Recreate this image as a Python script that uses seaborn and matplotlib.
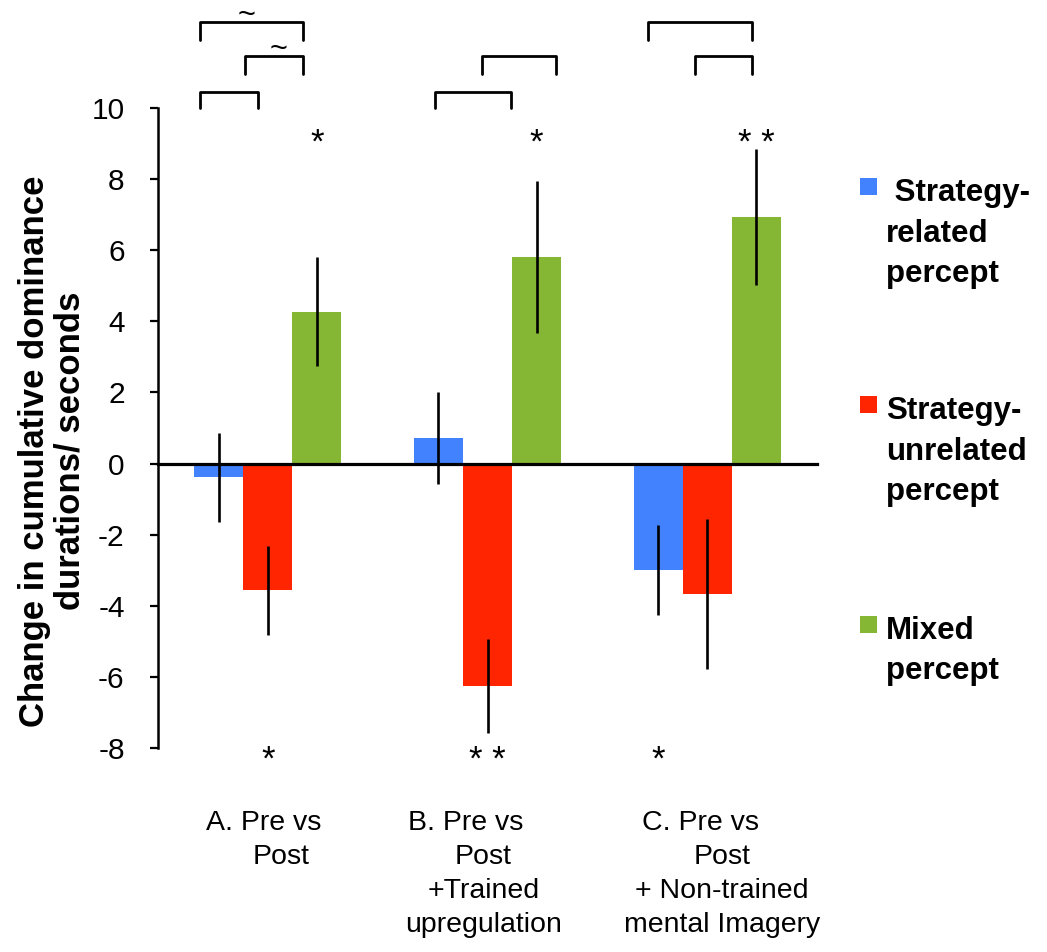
import numpy as np
import pandas as pd
import matplotlib
matplotlib.use("Agg")
import matplotlib.pyplot as plt
import matplotlib.transforms as mtransforms
import seaborn as sns
from matplotlib.patches import Rectangle

# ---------------- data ----------------
categories = ["A. Pre vs\nPost",
              "B. Pre vs\nPost\n+Trained\nupregulation",
              "C. Pre vs\nPost\n+ Non-trained\nmental Imagery"]
series = ["Strategy-related percept", "Strategy-unrelated percept", "Mixed percept"]
legend_labels = [" Strategy-\nrelated\npercept", "Strategy-\nunrelated\npercept", "Mixed\npercept"]

related = [-0.39, 0.72, -3.00]
unrelated = [-3.56, -6.25, -3.67]
mixed = [4.27, 5.80, 6.94]
related_err = [1.24, 1.30, 1.27]
unrelated_err = [1.25, 1.32, 2.11]
mixed_err = [1.54, 2.14, 1.91]

yticks = [-8, -6, -4, -2, 0, 2, 4, 6, 8, 10]
ylabel = "Change in cumulative dominance\ndurations/ seconds"

# significance marks: (category index, series index, mark, where)
sig_marks = [(0, 2, "*", "top"), (0, 1, "*", "bottom"),
             (1, 2, "*", "top"), (1, 1, "* *", "bottom"),
             (2, 0, "*", "bottom"), (2, 2, "* *", "top")]
# comparison brackets: (x start, x end, row, label, label x)
brackets = [(-0.31, 0.16, 0, "~", -0.096), (-0.105, 0.16, 1, "~", 0.05),
            (-0.31, -0.046, 2, "", 0), (0.973, 1.314, 1, "", 0),
            (0.759, 1.109, 2, "", 0), (1.731, 2.205, 0, "", 0),
            (1.945, 2.205, 1, "", 0)]

# ---------------- style ----------------
colors = ["#4282FF", "#FF2500", "#85B735"]
sns.set_style("white")
plt.rcParams['font.family'] = ['Liberation Sans', 'DejaVu Sans']
plt.rcParams['text.color'] = 'black'
plt.rcParams['axes.labelcolor'] = 'black'
plt.rcParams['ytick.color'] = 'black'
plt.rcParams['xtick.color'] = 'black'

W, H = 1047, 952
fig = plt.figure(figsize=(W / 100, H / 100), dpi=100)
ax = fig.add_axes([158 / W, 1 - 748 / H, (817 - 158) / W, (748 - 108) / H])

values = [related, unrelated, mixed]
errors = [related_err, unrelated_err, mixed_err]
rows = []
for s, vals in zip(series, values):
    for c, v in zip(categories, vals):
        rows.append({"condition": c, "percept": s, "value": v})
df = pd.DataFrame(rows)

sns.barplot(data=df, x="condition", y="value", hue="percept", order=categories,
            hue_order=series, palette=colors, width=0.67, saturation=1,
            errorbar=None, legend=False, linewidth=0, ax=ax)

centers = {}
for si, cont in enumerate(ax.containers):
    for ci, bar in enumerate(cont):
        xc = bar.get_x() + bar.get_width() / 2
        centers[(ci, si)] = xc
        v = values[si][ci]
        e = errors[si][ci]
        ax.vlines(xc, v - e, v + e, color="black", lw=1.9, zorder=5)

ax.set_xlim(-0.5, 2.5)
ax.set_ylim(-8, 10)
ax.set_yticks(yticks)
ax.set_yticklabels([str(t) for t in yticks])
ax.set_xlabel("")
ax.set_xticks([])
for sp in ["top", "right"]:
    ax.spines[sp].set_visible(False)
ax.spines["bottom"].set_position(("data", 0))
ax.spines["bottom"].set_linewidth(2.3)
ax.spines["bottom"].set_color("black")
ax.spines["bottom"].set_zorder(6)
ax.spines["left"].set_linewidth(1.8)
ax.spines["left"].set_color("black")
ax.tick_params(axis="y", direction="out", length=6, width=1.6, labelsize=21.5,
               pad=18, color="black", labelcolor="black", left=True)

ax.set_ylabel(ylabel, fontsize=25, fontweight="bold", linespacing=1.1)
ax.yaxis.set_label_coords(-0.108, 0.464)

# helper: pixel y -> figure fraction
def fy(py):
    return 1 - py / H

# category labels below the plot (line by line)
blend = mtransforms.blended_transform_factory(ax.transData, fig.transFigure)
line1_dx = [-4.6, -22, -7]
rest_dx = [13.4, -4, 15]
px = 219.5
cat_base = 830
cat_step = 34
for ci, lab in enumerate(categories):
    lines = lab.split("\n")
    for li, ln in enumerate(lines):
        dx = line1_dx[ci] if li == 0 else rest_dx[ci]
        ax.text(ci + dx / px, fy(cat_base + li * cat_step), ln, ha="center",
                va="baseline", fontsize=20.5, transform=blend, clip_on=False)

# significance asterisks
for ci, si, mark, where in sig_marks:
    y = 8.74 if where == "top" else -8.62
    ax.text(centers[(ci, si)], y, mark, ha="center", va="baseline", fontsize=25,
            clip_on=False)

# brackets
row_top = [12.41, 11.45, 10.45]
row_bot = [11.92, 10.96, 10.0]
tilde_y = [12.36, 11.40, 10.4]
for x0, x1, r, lab, lx in brackets:
    ax.plot([x0, x0, x1, x1], [row_bot[r], row_top[r], row_top[r], row_bot[r]],
            color="black", lw=2.0, clip_on=False, solid_joinstyle="round",
            solid_capstyle="round")
    if lab:
        ax.text(lx, tilde_y[r], lab, ha="center", va="baseline",
                fontsize=22, clip_on=False)

# legend (manual, figure pixel coords)
base_y = [201, 419, 639]
leg_step = 40.5
for col, lab, by in zip(colors, legend_labels, base_y):
    fig.add_artist(Rectangle((860 / W, fy(by - 6)), 17 / W, 17 / H,
                             transform=fig.transFigure, color=col, lw=0))
    for li, ln in enumerate(lab.split("\n")):
        fig.text(886 / W, fy(by + li * leg_step), ln, ha="left", va="baseline",
                 fontsize=22.5, fontweight="bold")

fig.savefig("out.png", dpi=100)
